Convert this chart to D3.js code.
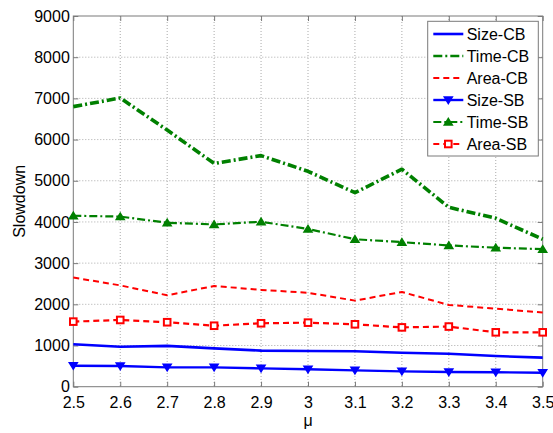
<!DOCTYPE html>
<html>
<head>
<meta charset="utf-8">
<script src="https://cdn.jsdelivr.net/npm/d3@7"></script>
<style>
  html, body { margin: 0; padding: 0; background: #fff; }
  svg { display: block; }
  text { font-family: "Liberation Sans", Arial, Helvetica, sans-serif; fill: #000; }
</style>
</head>
<body>
<svg id="chart" width="553" height="433"></svg>
<script>
// Slowdown versus mu for each partitioning scheme
const mu = [2.5, 2.6, 2.7, 2.8, 2.9, 3.0, 3.1, 3.2, 3.3, 3.4, 3.5];
const xTicks = [2.5, 2.6, 2.7, 2.8, 2.9, 3, 3.1, 3.2, 3.3, 3.4, 3.5];
const yTicks = [0, 1000, 2000, 3000, 4000, 5000, 6000, 7000, 8000, 9000];

const sizeCB = [1030, 970, 990, 930, 875, 867, 860, 825, 800, 745, 705];
const timeCB = [6800, 7010, 6230, 5420, 5610, 5230, 4710, 5280, 4355, 4090, 3580];
const areaCB = [2650, 2460, 2220, 2445, 2350, 2280, 2090, 2300, 1985, 1895, 1800];
const sizeSB = [510, 502, 470, 470, 445, 422, 397, 373, 357, 350, 340];
const timeSB = [4150, 4130, 3980, 3940, 4005, 3830, 3580, 3510, 3430, 3375, 3340];
const areaSB = [1580, 1620, 1565, 1480, 1540, 1555, 1515, 1440, 1460, 1320, 1320];

const series = [
  { name: "Size-CB", values: sizeCB, color: "#0000ff", width: 2.6, dash: null, marker: null },
  { name: "Time-CB", values: timeCB, color: "#008000", width: 3.6, dash: "9,3,2,3", marker: null },
  { name: "Area-CB", values: areaCB, color: "#ff0000", width: 2, dash: "6,4", marker: null },
  { name: "Size-SB", values: sizeSB, color: "#0000ff", width: 2.4, dash: null, marker: "down" },
  { name: "Time-SB", values: timeSB, color: "#008000", width: 2.2, dash: "8,3,2,3", marker: "up" },
  { name: "Area-SB", values: areaSB, color: "#ff0000", width: 2.2, dash: "6,4", marker: "square" }
];

const svg = d3.select("#chart");
const plotL = 73.3, plotR = 542.7, plotT = 16, plotB = 386.7;
const fontSize = 16;

const x = d3.scaleLinear().domain([2.5, 3.5]).range([plotL, plotR]);
const y = d3.scaleLinear().domain([0, 9000]).range([plotB, plotT]);

// dotted grid
const grid = svg.append("g");
grid.selectAll("line.gx").data(xTicks.slice(1, -1)).join("line")
  .attr("x1", d => x(d)).attr("x2", d => x(d))
  .attr("y1", plotT).attr("y2", plotB)
  .attr("stroke", "#aaaaaa").attr("stroke-width", 1).attr("stroke-dasharray", "1,2");
grid.selectAll("line.gy").data(yTicks.slice(1, -1)).join("line")
  .attr("x1", plotL).attr("x2", plotR)
  .attr("y1", d => y(d)).attr("y2", d => y(d))
  .attr("stroke", "#aaaaaa").attr("stroke-width", 1).attr("stroke-dasharray", "1,2");

// axes with inward ticks on all four sides
const tickLen = 5;
const axisColor = "#7a7a7a";
function styleAxis(g) {
  g.select(".domain").remove();
  g.selectAll(".tick line").attr("stroke", axisColor);
}
svg.append("g").attr("transform", `translate(0,${plotB})`)
  .call(d3.axisBottom(x).tickValues(xTicks).tickFormat(d3.format("")).tickSizeInner(-tickLen).tickPadding(10))
  .call(styleAxis)
  .selectAll("text").attr("font-size", fontSize).attr("font-family", "Liberation Sans, Arial, sans-serif").attr("fill", "#000");
svg.append("g").attr("transform", `translate(0,${plotT})`)
  .call(d3.axisTop(x).tickValues(xTicks).tickFormat("").tickSizeInner(-tickLen))
  .call(styleAxis);
svg.append("g").attr("transform", `translate(${plotL},0)`)
  .call(d3.axisLeft(y).tickValues(yTicks).tickFormat(d3.format("d")).tickSizeInner(-tickLen).tickPadding(3.5))
  .call(styleAxis)
  .selectAll("text").attr("font-size", fontSize).attr("font-family", "Liberation Sans, Arial, sans-serif").attr("fill", "#000");
svg.append("g").attr("transform", `translate(${plotR},0)`)
  .call(d3.axisRight(y).tickValues(yTicks).tickFormat("").tickSizeInner(-tickLen))
  .call(styleAxis);

svg.append("rect")
  .attr("x", plotL).attr("y", plotT).attr("width", plotR - plotL).attr("height", plotB - plotT)
  .attr("fill", "none").attr("stroke", axisColor).attr("stroke-width", 1);

// series lines and markers
const line = d3.line().x((d, i) => x(mu[i])).y(d => y(d));
function drawMarker(g, type, color, cx, cy) {
  if (type === "down") {
    g.append("path").attr("d", `M${cx - 4},${cy - 3}L${cx + 4},${cy - 3}L${cx},${cy + 3.5}Z`)
      .attr("fill", color).attr("stroke", color).attr("stroke-width", 1.5);
  } else if (type === "up") {
    g.append("path").attr("d", `M${cx - 4},${cy + 3}L${cx + 4},${cy + 3}L${cx},${cy - 3.5}Z`)
      .attr("fill", color).attr("stroke", color).attr("stroke-width", 1.5);
  } else if (type === "square") {
    g.append("rect").attr("x", cx - 3.3).attr("y", cy - 3.3).attr("width", 6.6).attr("height", 6.6)
      .attr("fill", "#fff").attr("stroke", color).attr("stroke-width", 2);
  }
}

const plot = svg.append("g");
series.forEach(s => {
  plot.append("path").datum(s.values)
    .attr("d", line).attr("fill", "none")
    .attr("stroke", s.color).attr("stroke-width", s.width)
    .attr("stroke-dasharray", s.dash)
    .attr("stroke-linejoin", "round");
  if (s.marker) {
    const mg = plot.append("g");
    s.values.forEach((v, i) => drawMarker(mg, s.marker, s.color, x(mu[i]), y(v)));
  }
});

// axis titles
svg.append("text").attr("x", x(3)).attr("y", 426).attr("text-anchor", "middle")
  .attr("font-size", fontSize).text("μ");
svg.append("text").attr("transform", `translate(25,${(plotT + plotB) / 2}) rotate(-90)`)
  .attr("text-anchor", "middle").attr("font-size", fontSize).text("Slowdown");

// legend
const lg = svg.append("g");
const lx = 427.7, ly = 21.3, lw = 110.6, lh = 134.7;
lg.append("rect").attr("x", lx).attr("y", ly).attr("width", lw).attr("height", lh)
  .attr("fill", "#fff").attr("stroke", axisColor).attr("stroke-width", 1);
series.forEach((s, i) => {
  const cy = 34 + i * 22;
  lg.append("line").attr("x1", 433.3).attr("x2", 463.3).attr("y1", cy).attr("y2", cy)
    .attr("stroke", s.color).attr("stroke-width", Math.min(s.width, 2.6))
    .attr("stroke-dasharray", s.dash);
  if (s.marker) drawMarker(lg, s.marker, s.color, 448.3, cy);
  lg.append("text").attr("x", 466.7).attr("y", cy + 5.8).attr("font-size", fontSize).text(s.name);
});
</script>
</body>
</html>
